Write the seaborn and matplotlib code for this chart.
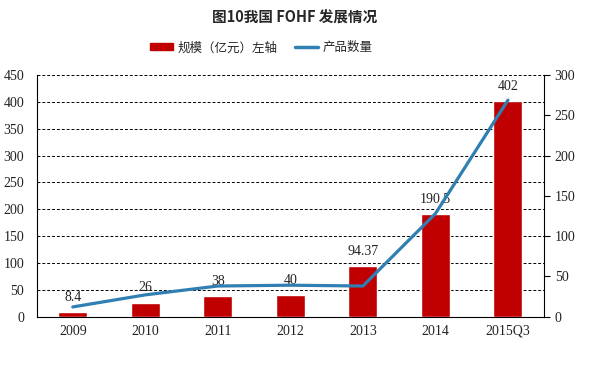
import numpy as np
import pandas as pd
import matplotlib
matplotlib.use("Agg")
import matplotlib.pyplot as plt
import seaborn as sns
from matplotlib.patches import Patch
from matplotlib.lines import Line2D

# data
years = ["2009", "2010", "2011", "2012", "2013", "2014", "2015Q3"]
scale = [8.4, 26, 38, 40, 94.37, 190.5, 402]          # 规模(亿元), left axis
scale_labels = ["8.4", "26", "38", "40", "94.37", "190.5", "402"]
count = [12, 27, 38, 39, 38, 128, 269]                 # 产品数量, right axis

sns.set_style("white")
plt.rcParams["font.family"] = ["Liberation Serif", "Noto Sans CJK SC", "DejaVu Sans"]

bar_color = "#C00000"
line_color = "#2F7FB2"

df = pd.DataFrame({"year": years, "scale": scale, "count": count})

fig, ax = plt.subplots(figsize=(5.89, 3.76), dpi=100)
fig.subplots_adjust(left=0.062, right=0.924, top=0.80, bottom=0.158)

sns.barplot(data=df, x="year", y="scale", color=bar_color, width=0.4,
            saturation=1, ax=ax, zorder=3)
ax.bar_label(ax.containers[0], labels=scale_labels, padding=6, fontsize=10,
             color="#222222", zorder=5)

ax.set_ylim(0, 450)
ax.set_yticks(range(0, 451, 50))
ax.set_xlim(-0.5, len(years) - 0.5)
ax.set_xlabel("")
ax.set_ylabel("")
for y in range(50, 451, 50):
    ax.axhline(y, color="black", lw=0.7, ls=(0, (3, 2)), zorder=1)
ax.tick_params(axis="both", labelsize=10, length=0, colors="#222222", pad=6)
ax.tick_params(axis="y", pad=9)
ax.spines["top"].set_visible(False)
ax.spines["left"].set_color("black")
ax.spines["bottom"].set_color("black")
ax.spines["right"].set_visible(False)

ax2 = ax.twinx()
sns.lineplot(x=np.arange(len(years)), y=count, color=line_color, lw=2.3, ax=ax2,
             zorder=4)
ax2.set_ylim(0, 300)
ax2.set_yticks(range(0, 301, 50))
ax2.set_xlim(-0.5, len(years) - 0.5)
ax2.spines["top"].set_visible(False)
ax2.spines["left"].set_visible(False)
ax2.spines["bottom"].set_visible(False)
ax2.spines["right"].set_color("black")
ax2.tick_params(axis="y", labelsize=10, length=4, direction="out",
                colors="#222222", color="black")

fig.suptitle("图10我国 FOHF 发展情况", y=0.975, fontsize=10.5, fontweight="bold",
             family=["Noto Sans CJK SC", "DejaVu Sans"])

handles = [Patch(facecolor=bar_color, edgecolor=bar_color),
           Line2D([0], [0], color=line_color, lw=2.5)]
fig.legend(handles, ["规模（亿元）左轴", "产品数量"], loc="center",
           bbox_to_anchor=(0.443, 0.873), ncol=2, frameon=False, handlelength=1.9,
           handleheight=0.5, columnspacing=1.4, handletextpad=0.3,
           prop={"family": ["Noto Sans CJK SC", "DejaVu Sans"], "size": 9})

fig.savefig("out.png", dpi=100)
